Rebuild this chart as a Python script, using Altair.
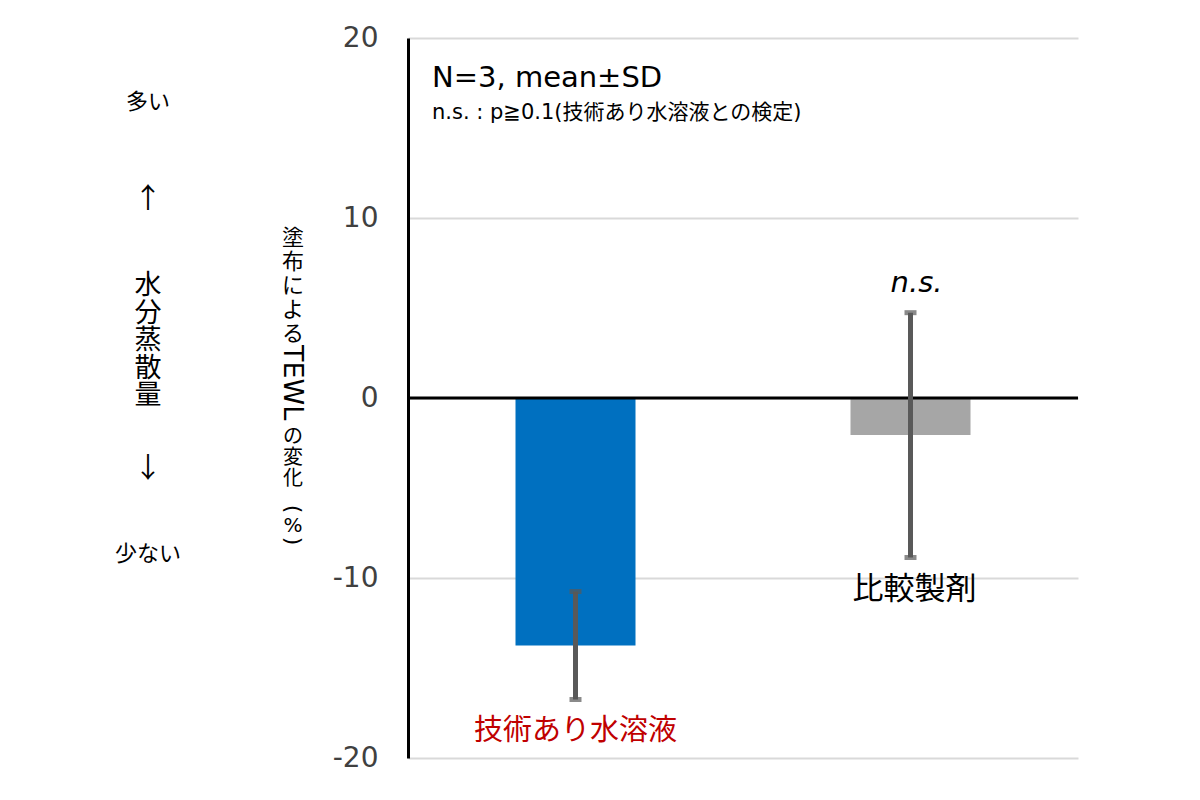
import altair as alt
import pandas as pd

categories = ["技術あり水溶液", "比較製剤"]
means = [-13.75, -2.06]
sds = [3.0, 6.8]
bar_colors = ["#0070C0", "#A6A6A6"]
label_colors = ["#C00000", "#000000"]
sig_marks = ["", "n.s."]
y_ticks = [-20, -10, 0, 10, 20]

title_top = ["塗", "布", "に", "よ", "る"]
title_mid = "TEWL"
title_bot = ["の", "変", "化"]
side_label = ["水", "分", "蒸", "散", "量"]

FONT = "DejaVu Sans, Noto Sans CJK JP"
JFONT = "Noto Sans CJK JP"

df = pd.DataFrame({
    "cat": categories,
    "mean": means,
    "sd": sds,
    "lo": [m - s for m, s in zip(means, sds)],
    "hi": [m + s for m, s in zip(means, sds)],
    "lc": label_colors,
    "sig": sig_marks,
})

xenc = alt.X("cat:N", sort=categories, axis=None,
             scale=alt.Scale(paddingInner=0, paddingOuter=0))
yscale = alt.Scale(domain=[-20, 20], nice=False)

base = alt.Chart(df)

bars = base.mark_bar(size=120).encode(
    x=xenc,
    y=alt.Y("mean:Q", scale=yscale, title=None,
            axis=alt.Axis(values=y_ticks, grid=True, gridColor="#D9D9D9",
                          gridWidth=2, domainColor="#000000", domainWidth=3,
                          ticks=False, labelFontSize=28, labelFont=FONT,
                          labelColor="#404040", labelPadding=30,
                          labelExpr="replace(datum.label, '−', '-')")),
    color=alt.Color("cat:N", scale=alt.Scale(domain=categories, range=bar_colors),
                    legend=None),
)

zero = alt.Chart(pd.DataFrame({"z": [0]})).mark_rule(color="#000000", strokeWidth=3).encode(
    y=alt.Y("z:Q", scale=yscale)
)

err = base.mark_rule(color="#595959", strokeWidth=5).encode(
    x=xenc, y=alt.Y("lo:Q", scale=yscale), y2="hi:Q"
)
cap_lo = base.mark_tick(color="#595959", size=12, thickness=5).encode(
    x=xenc, y=alt.Y("lo:Q", scale=yscale)
)
cap_hi = base.mark_tick(color="#595959", size=12, thickness=5).encode(
    x=xenc, y=alt.Y("hi:Q", scale=yscale)
)

label_a = base.transform_filter(alt.datum.cat == categories[0]).mark_text(
    font=JFONT, fontSize=29, baseline="middle", dy=31).encode(
    x=xenc, y=alt.Y("lo:Q", scale=yscale), text="cat:N",
    color=alt.Color("lc:N", scale=None),
)
label_b = base.transform_filter(alt.datum.cat == categories[1]).mark_text(
    font=JFONT, fontSize=31, baseline="middle", dy=33, dx=4).encode(
    x=xenc, y=alt.Y("lo:Q", scale=yscale), text="cat:N",
    color=alt.Color("lc:N", scale=None),
)
sig = base.mark_text(font=FONT, fontSize=29, fontStyle="italic", baseline="middle",
                     dy=-30, dx=6, color="#000000").encode(
    x=xenc, y=alt.Y("hi:Q", scale=yscale), text="sig:N",
)

def txt(text, x, y, size, **kw):
    return alt.Chart(pd.DataFrame({"t": [text]})).mark_text(
        fontSize=size, **kw).encode(x=alt.value(x), y=alt.value(y), text="t:N")

def stack(chars, x, y0, size, pitch):
    d = pd.DataFrame({"t": chars, "i": list(range(len(chars)))})
    return alt.Chart(d).transform_calculate(
        py=f"{y0} + datum.i * {pitch}"
    ).mark_text(font=JFONT, fontSize=size, baseline="middle", color="#000000").encode(
        x=alt.value(x), y=alt.Y("py:Q", scale=None), text="t:N")

note1 = txt("N=3, mean±SD", 24, 40, 29, font=FONT, align="left", baseline="middle", color="#000000")
note2 = txt("n.s. : p≧0.1(技術あり水溶液との検定)", 24, 75, 21, font=FONT, align="left",
            baseline="middle", color="#000000")

ytitle_top = stack(title_top, -115, 200, 22, 24)
ytitle_mid = txt(title_mid, -116, 307, 27, font=FONT, angle=90, align="left",
                 baseline="middle", color="#000000")
ytitle_bot = stack(title_bot, -115, 399, 20, 21)
ytitle_lp = txt("(", -115, 471, 22, font=FONT, angle=90, baseline="middle", color="#000000")
ytitle_pc = txt("%", -115, 488, 20, font=FONT, baseline="middle", color="#000000")
ytitle_rp = txt(")", -115, 503, 22, font=FONT, angle=90, baseline="middle", color="#000000")

more = txt("多い", -260, 64, 22, font=JFONT, baseline="middle", color="#000000")
up = txt("↑", -260, 162, 28, font=JFONT, baseline="middle", color="#000000")
side = stack(side_label, -260, 248, 27, 27.6)
down = txt("↓", -260, 432, 28, font=JFONT, baseline="middle", color="#000000")
less = txt("少ない", -260, 516, 22, font=JFONT, baseline="middle", color="#000000")

chart = alt.layer(
    bars, zero, err, cap_lo, cap_hi, label_a, label_b, sig, note1, note2,
    ytitle_top, ytitle_mid, ytitle_bot, ytitle_lp, ytitle_pc, ytitle_rp,
    more, up, side, down, less
).properties(
    width=670, height=720,
    autosize=alt.AutoSizeParams(type="none"),
    padding={"left": 400, "top": 30, "right": 114, "bottom": 34},
).configure_view(strokeWidth=0)

chart.save("out.html", embed_options={"renderer": "svg", "actions": False})
